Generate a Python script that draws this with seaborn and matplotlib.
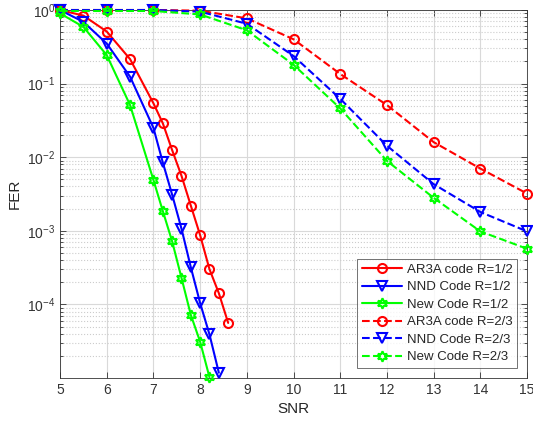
import numpy as np
import pandas as pd
import matplotlib
matplotlib.use("Agg")
import matplotlib.pyplot as plt
import seaborn as sns
from matplotlib.ticker import LogLocator, NullFormatter, FixedLocator

# R = 1/2 curves
snr_half = [5, 5.5, 6, 6.5, 7, 7.2, 7.4, 7.6, 7.8, 8.0, 8.2, 8.4, 8.6]
ar3a_half = [1.0, 0.84, 0.51, 0.215, 0.054, 0.029, 0.0125, 0.0056, 0.0022, 8.7e-4, 3.0e-4, 1.42e-4, 5.6e-5]
snr_nnd_half = [5, 5.5, 6, 6.5, 7, 7.2, 7.4, 7.6, 7.8, 8.0, 8.2, 8.4]
nnd_half = [1.0, 0.69, 0.35, 0.124, 0.025, 0.0085, 0.0031, 1.07e-3, 3.2e-4, 1.04e-4, 3.9e-5, 1.18e-5]
snr_new_half = [5, 5.5, 6, 6.5, 7, 7.2, 7.4, 7.6, 7.8, 8.0, 8.2]
new_half = [0.90, 0.59, 0.244, 0.051, 0.0049, 0.00186, 7.2e-4, 2.3e-4, 7.2e-5, 3.1e-5, 1.02e-5]

# R = 2/3 curves
snr_23 = [5, 6, 7, 8, 9, 10, 11, 12, 13, 14, 15]
ar3a_23 = [1.0, 1.0, 1.0, 0.98, 0.77, 0.40, 0.135, 0.051, 0.016, 0.0070, 0.0032]
nnd_23 = [1.0, 1.0, 1.0, 0.95, 0.65, 0.237, 0.062, 0.0143, 0.0043, 0.0018, 9.8e-4]
new_23 = [0.97, 0.97, 0.97, 0.87, 0.53, 0.18, 0.046, 0.0089, 0.0028, 9.8e-4, 5.7e-4]

series = [
    ("AR3A code R=1/2", snr_half, ar3a_half, "#ff0000", "o", "-", 6.5),
    ("NND Code R=1/2", snr_nnd_half, nnd_half, "#0000ff", "v", "-", 6.5),
    ("New Code R=1/2", snr_new_half, new_half, "#00ff00", (6, 1, 0), "-", 7.5),
    ("AR3A code R=2/3", snr_23, ar3a_23, "#ff0000", "o", "--", 6.5),
    ("NND Code R=2/3", snr_23, nnd_23, "#0000ff", "v", "--", 6.5),
    ("New Code R=2/3", snr_23, new_23, "#00ff00", (6, 1, 0), "--", 7.5),
]

sns.set_theme(style="ticks")
plt.rcParams['font.family'] = ['Liberation Sans', 'DejaVu Sans']

fig = plt.figure(figsize=(5.33, 4.26), dpi=100)
ax = fig.add_axes([0.1126, 0.1127, 0.8764, 0.8638])

for name, x, y, color, marker, ls, ms in series:
    df = pd.DataFrame({"SNR": x, "FER": y})
    sns.lineplot(data=df, x="SNR", y="FER", ax=ax, color=color, linestyle=ls,
                 linewidth=1.5, marker=marker, markersize=ms,
                 markerfacecolor="none", markeredgecolor=color,
                 markeredgewidth=1.5, label=name, clip_on=False, zorder=3)

ax.set_yscale("log")
ax.set_xlim(5, 15)
ax.set_ylim(1.0e-5, 1.0)
ax.set_xticks(range(5, 16))
ax.yaxis.set_major_locator(FixedLocator([1e-4, 1e-3, 1e-2, 1e-1, 1e0]))
ax.yaxis.set_minor_locator(LogLocator(base=10, subs=np.arange(2, 10)))
ax.yaxis.set_minor_formatter(NullFormatter())

ax.grid(which="major", color="#d9d9d9", linestyle="-", linewidth=0.8)
ax.grid(which="minor", axis="y", color="#cccccc", linestyle=":", linewidth=0.8)
ax.set_axisbelow(True)

ax.tick_params(which="both", direction="in", top=True, right=True,
               labelsize=10, colors="#333333", width=0.6)
ax.tick_params(which="major", length=4)
ax.tick_params(which="minor", length=2)
for s in ax.spines.values():
    s.set_color("#333333")
    s.set_linewidth(0.6)

ax.set_xlabel("SNR", fontsize=11, color="#262626")
ax.set_ylabel("FER", fontsize=11, color="#262626")

leg = ax.legend(loc="lower right", fontsize=9.5, frameon=True, fancybox=False,
                edgecolor="#333333", borderpad=0.35, labelspacing=0.4,
                handlelength=3.0, handletextpad=0.4, borderaxespad=0.75)
leg.get_frame().set_linewidth(0.6)
leg.set_zorder(5)

fig.savefig("out.png", dpi=100)
